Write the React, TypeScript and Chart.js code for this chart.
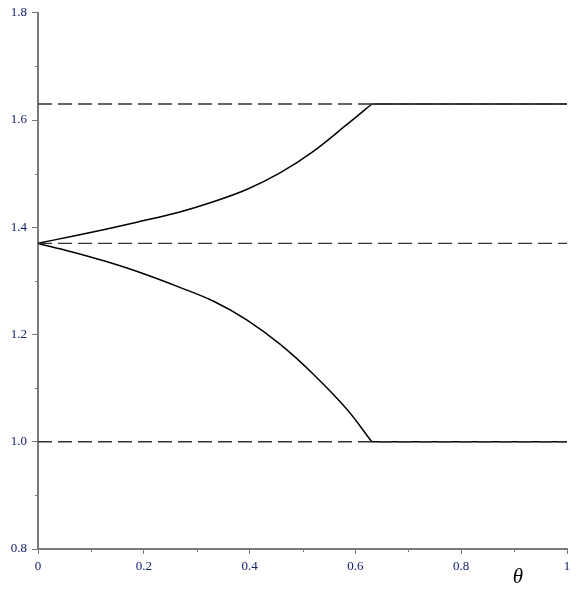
import React, { useEffect, useRef } from "react";
import { Chart, registerables } from "chart.js";

Chart.register(...registerables);

// theta values for the curved part of both branches
const thetaCurve = [0, 0.063, 0.126, 0.189, 0.268, 0.331, 0.3945, 0.4575, 0.5205, 0.5835, 0.631];
const upperCurve = [1.37, 1.383, 1.396, 1.41, 1.4285, 1.4475, 1.4705, 1.5013, 1.5416, 1.5913, 1.63];
const lowerCurve = [1.37, 1.3545, 1.337, 1.317, 1.288, 1.2625, 1.2275, 1.182, 1.126, 1.061, 1.0];
// flat continuation after the switch point
const thetaFlat = [0.631, 1.0];
const upperFlat = [1.63, 1.63];
const lowerFlat = [1.0, 1.0];
const refLevels = [1.63, 1.37, 1.0];
const xRange = [0, 1];
const yRange = [0.8, 1.8];
const xMinorTicks = [0.1, 0.3, 0.5, 0.7, 0.9];
const yMinorTicks = [0.9, 1.1, 1.3, 1.5, 1.7];
const xTitle = "θ";

const AXIS_COLOR = "#7a7a7a";
const LABEL_COLOR = "#14206e";
const FONT = "'Liberation Serif', 'Times New Roman', serif";

export default function App() {
  const ref = useRef<HTMLCanvasElement | null>(null);

  useEffect(() => {
    if (!ref.current) return;
    const toPts = (xs: number[], ys: number[]) => xs.map((x, i) => ({ x, y: ys[i] }));

    const extras = {
      id: "extras",
      afterDraw(chart: any) {
        const { ctx, scales } = chart;
        const xs = scales.x;
        const ys = scales.y;
        const area = chart.chartArea;
        ctx.save();
        ctx.strokeStyle = AXIS_COLOR;
        ctx.lineWidth = 1;
        ctx.beginPath();
        xMinorTicks.forEach((v) => {
          const px = Math.round(xs.getPixelForValue(v)) + 0.5;
          ctx.moveTo(px, area.bottom);
          ctx.lineTo(px, area.bottom + 3);
        });
        yMinorTicks.forEach((v) => {
          const py = Math.round(ys.getPixelForValue(v)) + 0.5;
          ctx.moveTo(area.left, py);
          ctx.lineTo(area.left - 3, py);
        });
        ctx.stroke();
        ctx.fillStyle = "#000";
        ctx.font = `italic 21px ${FONT}`;
        ctx.textAlign = "center";
        ctx.textBaseline = "middle";
        ctx.fillText(xTitle, xs.getPixelForValue(0.907), 577);
        ctx.restore();
      },
    };

    const solid = (xs: number[], ys: number[]) => ({
      data: toPts(xs, ys),
      showLine: true,
      borderColor: "#000",
      borderWidth: 1.5,
      pointRadius: 0,
      tension: 0.35,
    });

    const chart = new Chart(ref.current, {
      type: "scatter",
      data: {
        datasets: [
          ...refLevels.map((lv) => ({
            data: [
              { x: xRange[0], y: lv },
              { x: xRange[1], y: lv },
            ],
            showLine: true,
            borderColor: "#333",
            borderWidth: 1.4,
            borderDash: [14, 6],
            pointRadius: 0,
          })),
          solid(thetaCurve, upperCurve),
          solid(thetaCurve, lowerCurve),
          solid(thetaFlat, upperFlat),
          solid(thetaFlat, lowerFlat),
        ],
      },
      options: {
        animation: false,
        responsive: true,
        maintainAspectRatio: false,
        layout: { padding: { top: 11, right: 14, left: 0, bottom: 0 } },
        plugins: { legend: { display: false }, tooltip: { enabled: false } },
        scales: {
          x: {
            type: "linear",
            min: xRange[0],
            max: xRange[1],
            afterFit: (s: any) => {
              s.height = 40;
            },
            border: { display: true, color: AXIS_COLOR, width: 2 },
            grid: {
              drawOnChartArea: false,
              drawTicks: true,
              tickLength: 5,
              color: AXIS_COLOR,
              lineWidth: 1,
            },
            ticks: {
              stepSize: 0.2,
              padding: 5,
              color: LABEL_COLOR,
              font: { family: FONT, size: 13 },
              maxRotation: 0,
              callback: (v: any) => {
                const n = Number(v);
                return n === 0 || n === 1 ? String(n) : n.toFixed(1);
              },
            },
          },
          y: {
            type: "linear",
            min: yRange[0],
            max: yRange[1],
            afterFit: (s: any) => {
              s.width = 38;
            },
            border: { display: true, color: AXIS_COLOR, width: 2 },
            grid: {
              drawOnChartArea: false,
              drawTicks: true,
              tickLength: 6,
              color: AXIS_COLOR,
              lineWidth: 1,
            },
            ticks: {
              stepSize: 0.2,
              padding: 5,
              color: LABEL_COLOR,
              font: { family: FONT, size: 13 },
              callback: (v: any) => Number(v).toFixed(1),
            },
          },
        },
      },
      plugins: [extras],
    });
    return () => chart.destroy();
  }, []);

  return (
    <div style={{ position: "absolute", left: 0, top: 0, width: 581, height: 589, background: "#fff" }}>
      <canvas ref={ref} />
    </div>
  );
}
